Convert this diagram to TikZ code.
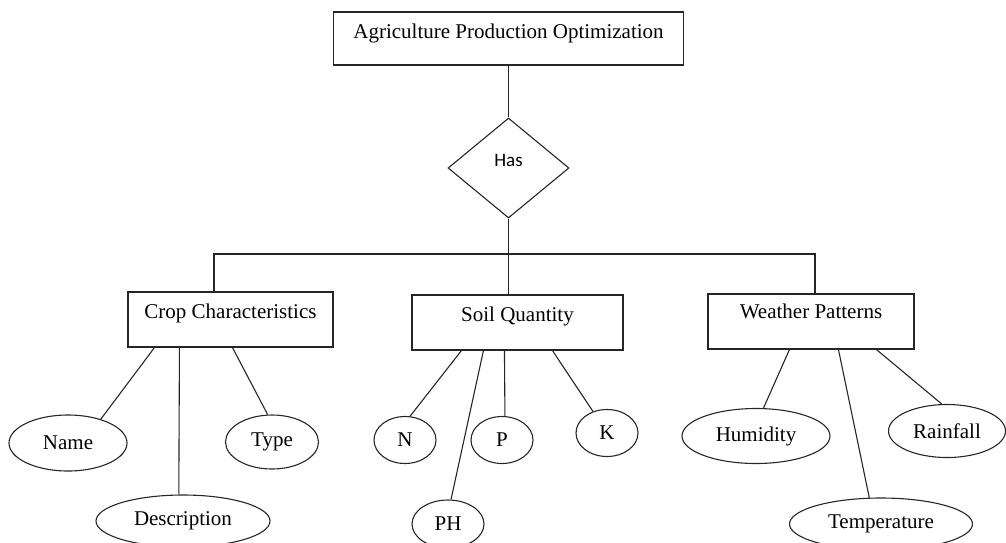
\documentclass[tikz,border=0pt]{standalone}
\usepackage{fontspec}
\setmainfont{Liberation Serif}
\newfontfamily\hasfont{Carlito}
\usetikzlibrary{shapes.geometric,calc}
\tikzset{
  ln/.style={draw=black!85, line width=1.1pt},
  entbox/.style={ln, rectangle, inner xsep=0pt, inner ysep=0pt, font=\fontsize{21}{25}\selectfont},
  attr/.style={ln, ellipse, inner sep=0pt, font=\fontsize{21}{25}\selectfont},
  rel/.style={ln, diamond, inner sep=0pt, font=\hasfont\fontsize{19}{22}\selectfont}
}
\begin{document}
\begin{tikzpicture}[x=1pt,y=-1pt]
\useasboundingbox (0,0) rectangle (1006,542);
% entities
\node[entbox, minimum width=350pt, text height=26.5pt, text depth=26.5pt] (apo) at (508.5,38.5) {Agriculture Production Optimization};
\node[rel, minimum width=121pt, minimum height=100pt, text height=10pt, text depth=14pt] (has) at (508.5,168) {Has};
\node[entbox, minimum width=205pt, text height=26.5pt, text depth=28.5pt] (crop) at (230.5,319.5) {Crop Characteristics};
\node[entbox, minimum width=211pt, text height=26.5pt, text depth=28.5pt] (soil) at (517.5,322.5) {Soil Quantity};
\node[entbox, minimum width=206pt, text height=24.5pt, text depth=30.5pt] (weather) at (811,321.5) {Weather Patterns};
% attributes
\node[attr, minimum width=118pt, minimum height=56pt] (name) at (68,443) {Name};
\node[attr, minimum width=174pt, minimum height=52pt] (desc) at (183,521) {Description};
\node[attr, minimum width=93pt, minimum height=54pt] (type) at (272,442) {Type};
\node[attr, minimum width=62pt, minimum height=47pt] (n) at (405,440) {N};
\node[attr, minimum width=72pt, minimum height=48pt] (ph) at (448,524) {PH};
\node[attr, minimum width=62pt, minimum height=47pt] (p) at (502,440) {P};
\node[attr, minimum width=62pt, minimum height=47pt] (k) at (607,433) {K};
\node[attr, minimum width=148pt, minimum height=55pt] (hum) at (756,436) {Humidity};
\node[attr, minimum width=183pt, minimum height=52pt] (temp) at (881,524) {Temperature};
\node[attr, minimum width=117pt, minimum height=53pt] (rain) at (947,431) {Rainfall};
% connectors
\coordinate (bus) at (508.5,254);
\draw[ln] (apo.south) -- (has.north);
\draw[ln] (has.south) -- (bus);
\draw[ln] (crop.north -| 214,0) |- (bus) -| (weather.north -| 815,0);
\draw[ln] (bus) -- (soil.north -| bus);
\draw[ln] ([xshift=27pt]crop.south west) -- (name.36);
\draw[ln] ([xshift=52pt]crop.south west) -- (desc.99);
\draw[ln] ([xshift=105pt]crop.south west) -- (type.99);
\draw[ln] ([xshift=50pt]soil.south west) -- (n.78);
\draw[ln] ([xshift=72pt]soil.south west) -- (ph.83);
\draw[ln] ([xshift=93pt]soil.south west) -- (p.83);
\draw[ln] ([xshift=141pt]soil.south west) -- (k.123);
\draw[ln] ([xshift=82pt]weather.south west) -- (hum.75);
\draw[ln] ([xshift=131pt]weather.south west) -- (temp.114);
\draw[ln] ([xshift=169pt]weather.south west) -- (rain.101);
\end{tikzpicture}
\end{document}
